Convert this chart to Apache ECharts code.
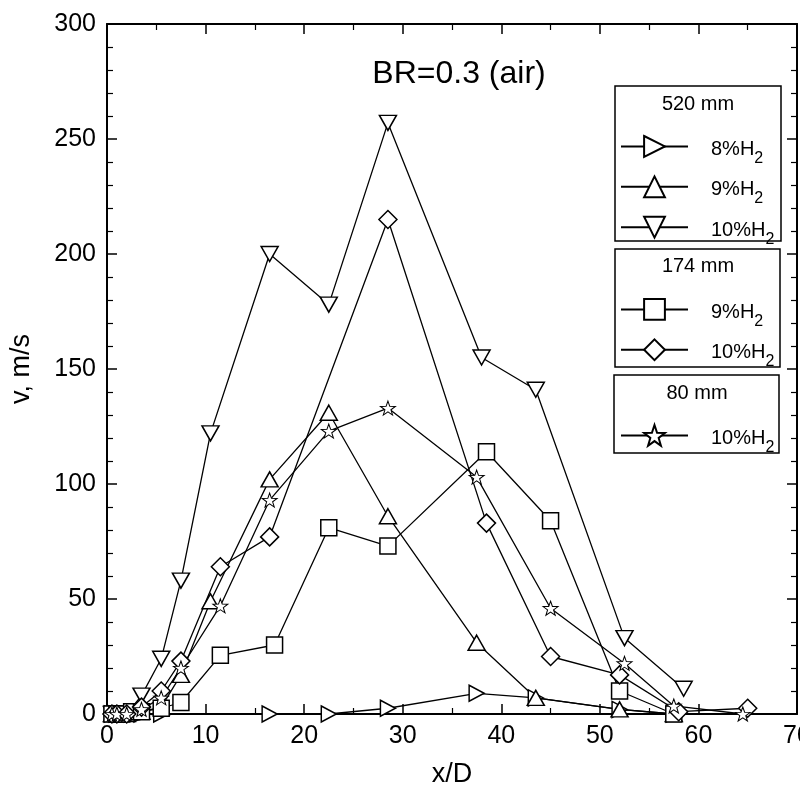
<!DOCTYPE html>
<html>
<head>
<meta charset="utf-8">
<script src="https://cdn.jsdelivr.net/npm/echarts@6/dist/echarts.min.js"></script>
<style>html,body{margin:0;padding:0;background:#fff}#c{width:800px;height:793px}</style>
</head>
<body>
<div id="c"></div>
<script>
// ---- data ----
var xTicks = [0, 10, 20, 30, 40, 50, 60, 70];
var yTicks = [0, 50, 100, 150, 200, 250, 300];
var chartTitle = 'BR=0.3 (air)';
var groups = ['520 mm', '174 mm', '80 mm'];

var s520_8 = [[0.5,0],[1,0],[1.5,0],[2.5,0],[3.5,0],[5.5,0],[16.5,0],[22.5,0],[28.5,2.5],[37.5,9],[43.5,7],[52,2],[57.5,0]];
var s520_9 = [[0.5,0],[1,0],[2,0],[3.5,1],[5.5,3],[7.5,17],[10.5,49],[16.5,102],[22.5,131],[28.5,86],[37.5,31],[43.5,7],[52,2],[57.5,0]];
var s520_10 = [[0.5,0],[1,0],[2,0],[3.5,8],[5.5,24],[7.5,58],[10.5,122],[16.5,200],[22.5,178],[28.5,257],[38,155],[43.5,141],[52.5,33],[58.5,11]];
var s174_9 = [[0.5,0],[1,0],[1.5,0],[2.5,1],[3.5,1],[5.5,2.5],[7.5,5],[11.5,25.5],[17,30],[22.5,81],[28.5,73],[38.5,114],[45,84],[52,10],[57.5,0]];
var s174_10 = [[0.5,0],[1,0],[2,0],[3.5,3],[5.5,10],[7.5,23],[11.5,64],[16.5,77],[28.5,215],[38.5,83],[45,25],[52,17],[58,1],[65,2.5]];
var s80_10 = [[0.5,0],[1,0],[2,0],[3.5,2],[5.5,7],[7.5,20],[11.5,47],[16.5,93],[22.5,123],[28.5,133],[37.5,103],[45,46],[52.5,22],[57.5,3.5],[64.5,0]];

// ---- style ----
var FONT = 'Liberation Sans, Arial, sans-serif';
var SYM = {
  right: 'path://M0,0 L10,5 L0,10 Z',
  up: 'path://M5,0 L10,10 L0,10 Z',
  down: 'path://M0,0 L10,0 L5,10 Z',
  square: 'rect',
  diamond: 'diamond',
  star: 'path://M10,0 L12.35,6.76 L19.51,6.91 L13.8,11.24 L15.88,18.09 L10,14 L4.12,18.09 L6.2,11.24 L0.49,6.91 L7.65,6.76 Z'
};
function mk(name, data, sym, size) {
  return {
    name: name, type: 'line', data: data, symbol: sym, symbolSize: size,
    showAllSymbol: true, clip: false,
    lineStyle: {color: '#000', width: 1.3},
    itemStyle: {color: '#fff', borderColor: '#000', borderWidth: 1.5},
    emphasis: {disabled: true}, animation: false
  };
}
var series = [
  mk('520 mm 8%H2', s520_8, SYM.right, [15, 16]),
  mk('520 mm 9%H2', s520_9, SYM.up, [17, 15]),
  mk('520 mm 10%H2', s520_10, SYM.down, [17, 15]),
  mk('174 mm 9%H2', s174_9, SYM.square, 16),
  mk('174 mm 10%H2', s174_10, SYM.diamond, [18, 18]),
  mk('80 mm 10%H2', s80_10, SYM.star, [15, 14])
];
series[5].itemStyle.borderWidth = 1;

function legFmt(name) {
  var pct = name.split(' ')[2].replace('H2', '');
  return '{a|' + pct + 'H}{b|2}';
}
var legRich = {
  a: {fontFamily: FONT, fontSize: 20, color: '#000', lineHeight: 26, verticalAlign: 'bottom'},
  b: {fontFamily: FONT, fontSize: 16, color: '#000', lineHeight: 26, verticalAlign: 'bottom', padding: [0,0,-7,0]}
};
function leg(names, top) {
  return {
    orient: 'vertical', left: 620, top: top, data: names,
    itemWidth: 67, itemHeight: 26, itemGap: 9, padding: 0,
    formatter: legFmt, selectedMode: false,
    textStyle: {fontFamily: FONT, fontSize: 20, color: '#000', rich: legRich, padding: [0,0,0,18]}
  };
}

var axisCommon = {
  type: 'value',
  axisLine: {show: true, onZero: false, lineStyle: {color: '#000', width: 2}},
  axisTick: {show: true, inside: true, length: 10, lineStyle: {color: '#000', width: 1.5}},
  minorTick: {show: true, length: 6, lineStyle: {color: '#000', width: 1.2}},
  splitLine: {show: false}
};
function ax(extra) { return Object.assign({}, JSON.parse(JSON.stringify(axisCommon)), extra); }

var option = {
  backgroundColor: '#fff',
  animation: false,
  grid: {left: 107, right: 3, top: 24, bottom: 79, containLabel: false, outerBoundsMode: 'none'},
  title: {text: chartTitle, left: 454, top: 53, textAlign: 'center',
    textStyle: {fontFamily: FONT, fontSize: 32, fontWeight: 'normal', color: '#000'}},
  xAxis: [
    ax({min: 0, max: 70, interval: 10, position: 'bottom',
      minorTick: {show: true, splitNumber: 2, length: 6, lineStyle: {color: '#000', width: 1.2}},
      axisLabel: {fontFamily: FONT, fontSize: 25, color: '#000', margin: 10,
        formatter: function (v) { return xTicks.indexOf(v) >= 0 ? String(v) : ''; }},
      name: 'x/D', nameLocation: 'middle', nameGap: 47,
      nameTextStyle: {fontFamily: FONT, fontSize: 27, color: '#000'}}),
    ax({min: 0, max: 70, interval: 10, position: 'top',
      minorTick: {show: true, splitNumber: 2, length: 6, lineStyle: {color: '#000', width: 1.2}},
      axisLabel: {show: false}})
  ],
  yAxis: [
    ax({min: 0, max: 300, interval: 50, position: 'left',
      minorTick: {show: true, splitNumber: 5, length: 6, lineStyle: {color: '#000', width: 1.2}},
      axisLabel: {fontFamily: FONT, fontSize: 25, color: '#000', margin: 11,
        formatter: function (v) { return yTicks.indexOf(v) >= 0 ? String(v) : ''; }},
      name: 'v, m/s', nameLocation: 'middle', nameGap: 72, nameRotate: 90,
      nameTextStyle: {fontFamily: FONT, fontSize: 27, color: '#000'}}),
    ax({min: 0, max: 300, interval: 50, position: 'right',
      minorTick: {show: true, splitNumber: 5, length: 6, lineStyle: {color: '#000', width: 1.2}},
      axisLabel: {show: false}})
  ],
  legend: [
    leg(['520 mm 8%H2', '520 mm 9%H2', '520 mm 10%H2'], 135),
    leg(['174 mm 9%H2', '174 mm 10%H2'], 298),
    leg(['80 mm 10%H2'], 424)
  ],
  graphic: [
    {type: 'rect', shape: {x: 615, y: 86, width: 166, height: 155}, style: {fill: 'none', stroke: '#000', lineWidth: 1.5}, z: 10},
    {type: 'rect', shape: {x: 615, y: 249, width: 165, height: 118}, style: {fill: 'none', stroke: '#000', lineWidth: 1.5}, z: 10},
    {type: 'rect', shape: {x: 614, y: 375, width: 165, height: 78}, style: {fill: 'none', stroke: '#000', lineWidth: 1.5}, z: 10},
    {type: 'text', x: 698, y: 104, style: {text: groups[0], fontFamily: FONT, fontSize: 20, fill: '#000', align: 'center', verticalAlign: 'middle'}, z: 10},
    {type: 'text', x: 698, y: 266, style: {text: groups[1], fontFamily: FONT, fontSize: 20, fill: '#000', align: 'center', verticalAlign: 'middle'}, z: 10},
    {type: 'text', x: 697, y: 393, style: {text: groups[2], fontFamily: FONT, fontSize: 20, fill: '#000', align: 'center', verticalAlign: 'middle'}, z: 10}
  ],
  series: series
};
var chart = echarts.init(document.getElementById('c'), null, {renderer: 'canvas'});
chart.setOption(option);
</script>
</body>
</html>
